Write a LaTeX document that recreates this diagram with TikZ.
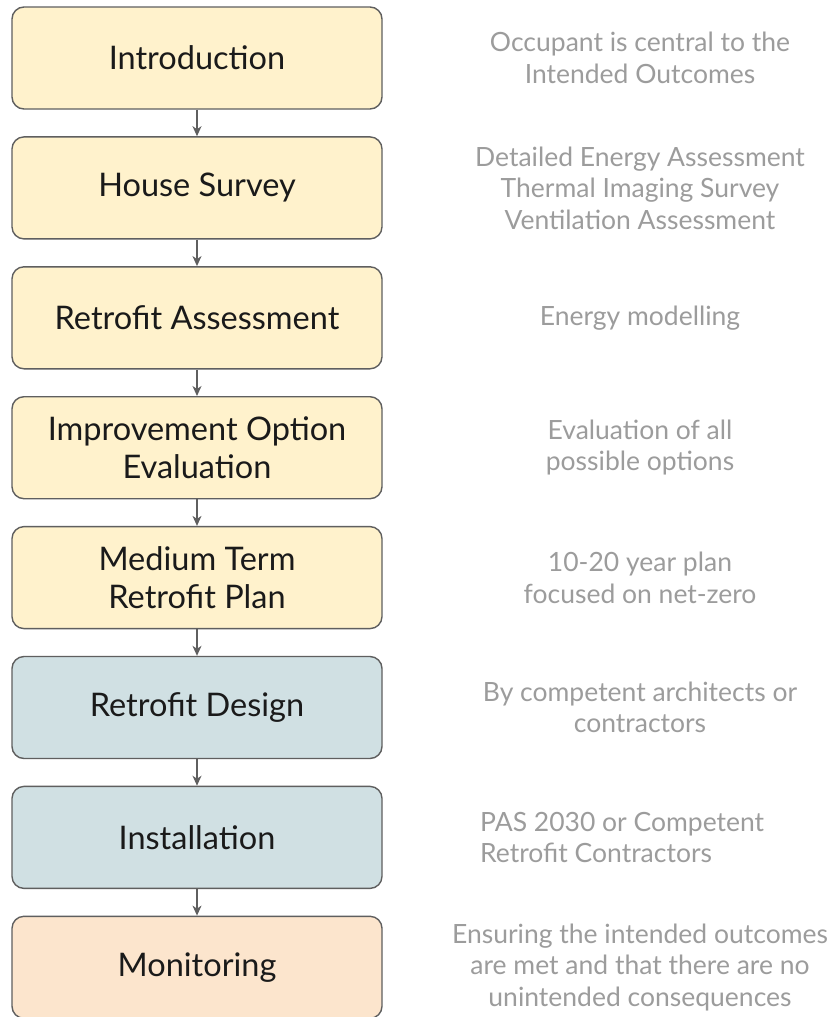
\documentclass[tikz,border=0pt]{standalone}
\usepackage{fontspec}
\setmainfont{Lato}
\usetikzlibrary{arrows.meta,positioning}
\definecolor{boxline}{HTML}{5F5F5F}
\definecolor{yel}{HTML}{FFF2CC}
\definecolor{blu}{HTML}{D0E0E3}
\definecolor{pch}{HTML}{FCE5CD}
\definecolor{note}{HTML}{9C9C9C}
\definecolor{ink}{HTML}{1A1A1A}
\tikzset{
  x=1pt,y=1pt,
  stage/.style={draw=boxline, line width=1.4pt, rounded corners=12pt,
    minimum width=370pt, minimum height=102pt, inner sep=0pt,
    align=center, text=ink, font=\fontsize{32.5}{37.5}\selectfont},
  yelbox/.style={stage, fill=yel},
  blubox/.style={stage, fill=blu},
  pchbox/.style={stage, fill=pch},
  notetext/.style={text=note, align=center, inner sep=0pt,
    font=\fontsize{26.5}{31.5}\selectfont},
  flow/.style={draw=boxline, line width=1.3pt,
    -{Stealth[length=10pt,width=9pt,inset=3pt]}}
}
\begin{document}
\begin{tikzpicture}
\useasboundingbox (0,0) rectangle (838,-1017);
\fill[white] (0,0) rectangle (838,-1017);
\node[yelbox] (n1) at (197,-58) {Introduction};
\node[yelbox] (n2) at (197,-187.9) {House Survey};
\node[yelbox] (n3) at (197,-317.8) {Retrofit Assessment};
\node[yelbox] (n4) at (197,-447.7) {Improvement Option\\Evaluation};
\node[yelbox] (n5) at (197,-577.6) {Medium Term\\Retrofit Plan};
\node[blubox] (n6) at (197,-707.5) {Retrofit Design};
\node[blubox] (n7) at (197,-837.4) {Installation};
\node[pchbox] (n8) at (197,-967.3) {Monitoring};
\foreach \a/\b in {n1/n2,n2/n3,n3/n4,n4/n5,n5/n6,n6/n7,n7/n8}
  \draw[flow] (\a.south) -- (\b.north);
\node[notetext] (t1) at (640,-58) {Occupant is central to the\\Intended Outcomes};
\node[notetext] (t2) at (640,-187.9) {Detailed Energy Assessment\\Thermal Imaging Survey\\Ventilation Assessment};
\node[notetext] (t3) at (640,-317.8) {Energy modelling};
\node[notetext] (t4) at (640,-447.7) {Evaluation of all\\possible options};
\node[notetext] (t5) at (640,-577.6) {10-20 year plan\\focused on net-zero};
\node[notetext] (t6) at (640,-707.5) {By competent architects or\\contractors};
\node[notetext, align=left, anchor=west] (t7) at (480,-837.4) {PAS 2030 or Competent\\Retrofit Contractors};
\node[notetext] (t8) at (640,-967.3) {Ensuring the intended outcomes\\are met and that there are no\\unintended consequences};
\end{tikzpicture}
\end{document}
